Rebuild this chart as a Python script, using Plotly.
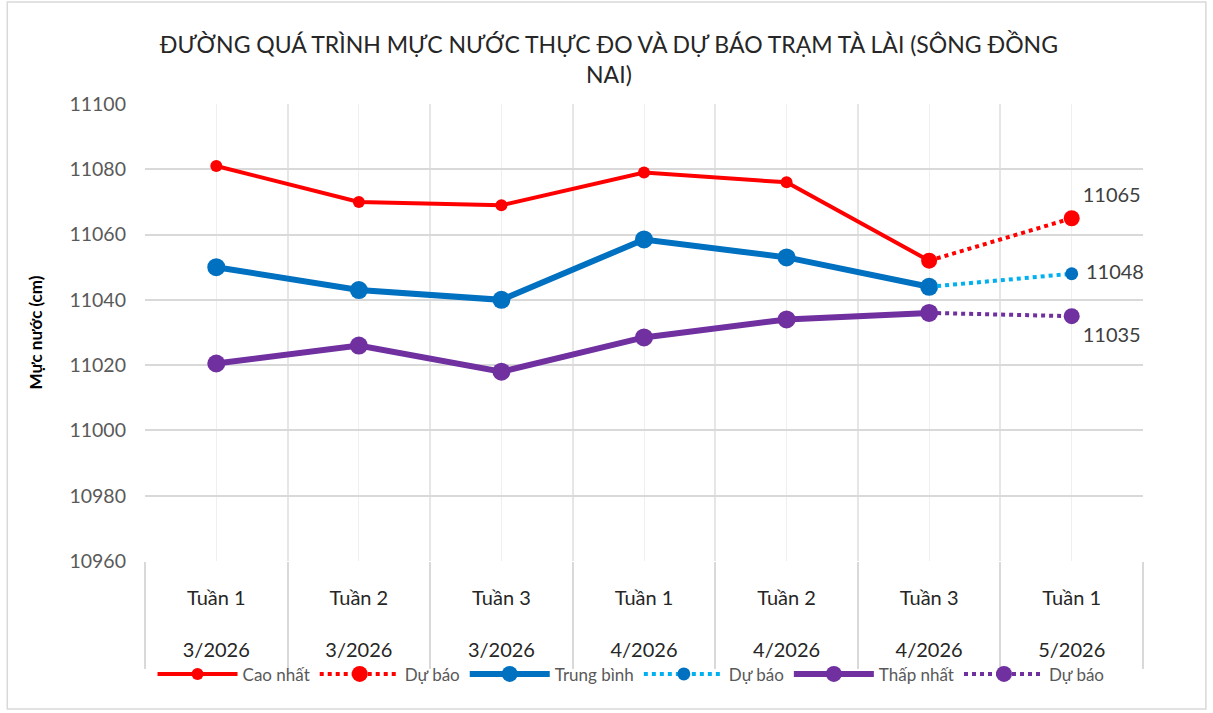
"""
Đường quá trình mực nước thực đo và dự báo trạm Tà Lài (sông Đồng Nai).
"""

import plotly.graph_objects as go

weeks = ["Tuần 1", "Tuần 2", "Tuần 3", "Tuần 1", "Tuần 2", "Tuần 3", "Tuần 1"]
months = ["3/2026", "3/2026", "3/2026", "4/2026", "4/2026", "4/2026", "5/2026"]

cao_nhat = [11081, 11070, 11069, 11079, 11076, 11052]
trung_binh = [11050, 11043, 11040, 11058.5, 11053, 11044]
thap_nhat = [11020.5, 11026, 11018, 11028.5, 11034, 11036]

du_bao_cao = 11065
du_bao_tb = 11048
du_bao_thap = 11035

RED = "#ff0000"
BLUE = "#0070c0"
LIGHT_BLUE = "#00b0f0"
PURPLE = "#7030a0"
FONT = "Lato, 'Open Sans', sans-serif"

x_obs = list(range(len(cao_nhat)))
x_fc = [len(cao_nhat) - 1, len(cao_nhat)]

fig = go.Figure()

fig.add_trace(go.Scatter(
    x=x_obs, y=cao_nhat, name="Cao nhất", mode="lines+markers",
    line=dict(color=RED, width=4), marker=dict(color=RED, size=12, opacity=1),
))
fig.add_trace(go.Scatter(
    x=x_fc, y=[cao_nhat[-1], du_bao_cao], name="Dự báo", mode="lines+markers+text",
    line=dict(color=RED, width=4, dash="dot"), marker=dict(color=RED, size=16, opacity=1),
    text=["", str(du_bao_cao)], textposition="top right", cliponaxis=False,
    textfont=dict(size=20, color="#404040"),
))
fig.add_trace(go.Scatter(
    x=x_obs, y=trung_binh, name="Trung bình", mode="lines+markers",
    line=dict(color=BLUE, width=6), marker=dict(color=BLUE, size=18, opacity=1),
))
fig.add_trace(go.Scatter(
    x=x_fc, y=[trung_binh[-1], du_bao_tb], name="Dự báo", mode="lines+markers+text",
    line=dict(color=LIGHT_BLUE, width=4, dash="dot"),
    marker=dict(color=BLUE, size=13, opacity=1),
    text=["", " " + str(du_bao_tb)], textposition="middle right", cliponaxis=False,
    textfont=dict(size=20, color="#404040"),
))
fig.add_trace(go.Scatter(
    x=x_obs, y=thap_nhat, name="Thấp nhất", mode="lines+markers",
    line=dict(color=PURPLE, width=6), marker=dict(color=PURPLE, size=18, opacity=1),
))
fig.add_trace(go.Scatter(
    x=x_fc, y=[thap_nhat[-1], du_bao_thap], name="Dự báo", mode="lines+markers+text",
    line=dict(color=PURPLE, width=4, dash="dot"),
    marker=dict(color=PURPLE, size=16, opacity=1),
    text=["", str(du_bao_thap)], textposition="bottom right", cliponaxis=False,
    textfont=dict(size=20, color="#404040"),
))

n = len(weeks)
boundaries = [i - 0.5 for i in range(n + 1)]

fig.update_layout(
    width=1213, height=713,
    paper_bgcolor="white", plot_bgcolor="white",
    font=dict(family=FONT, size=16, color="#595959"),
    title=dict(
        text="ĐƯỜNG QUÁ TRÌNH MỰC NƯỚC THỰC ĐO VÀ DỰ BÁO TRẠM TÀ LÀI (SÔNG ĐỒNG<br>NAI)",
        x=0.502, xanchor="center", y=0.926, yanchor="middle",
        font=dict(size=23, color="#262626"),
    ),
    xaxis=dict(
        range=[-0.5, n - 0.5],
        tickvals=list(range(n)),
        ticktext=[f"{w}<br><br>{m}" for w, m in zip(weeks, months)],
        tickfont=dict(size=20, color="#262626"),
        ticks="", showgrid=True, gridcolor="#efefef", gridwidth=1,
        ticklabelstandoff=23, automargin=False,
        minor=dict(tickvals=boundaries, ticks="outside", ticklen=107,
                   tickcolor="#d9d9d9", tickwidth=1.5,
                   showgrid=True, gridcolor="#e6e6e6", gridwidth=1.5),
        zeroline=False, showline=False, fixedrange=True,
    ),
    yaxis=dict(
        range=[10960, 11100], dtick=20, tickformat="d",
        gridcolor="#d9d9d9", gridwidth=1.5,
        tickfont=dict(size=19.5, color="#595959"),
        ticklabelstandoff=18, automargin=False,
        zeroline=False, showline=False,
        title=dict(text="<b>Mực nước (cm)</b>", font=dict(size=17, color="#000000"),
                   standoff=22),
    ),
    legend=dict(
        orientation="h", x=0.487, xanchor="center", y=-0.248, yanchor="middle",
        font=dict(size=17, color="#595959"), itemwidth=80,
        tracegroupgap=0, bgcolor="rgba(0,0,0,0)",
    ),
    margin=dict(l=145, r=70, t=104, b=152),
    showlegend=True,
)

fig.add_shape(
    type="rect", xref="paper", yref="paper",
    x0=-0.138, x1=1.063, y0=-0.324, y1=1.223,
    line=dict(color="#d9d9d9", width=1.5), fillcolor="rgba(0,0,0,0)", layer="below",
)

fig.write_html("out.html", config={"displayModeBar": False},
               post_script="document.body.style.margin='0';")
